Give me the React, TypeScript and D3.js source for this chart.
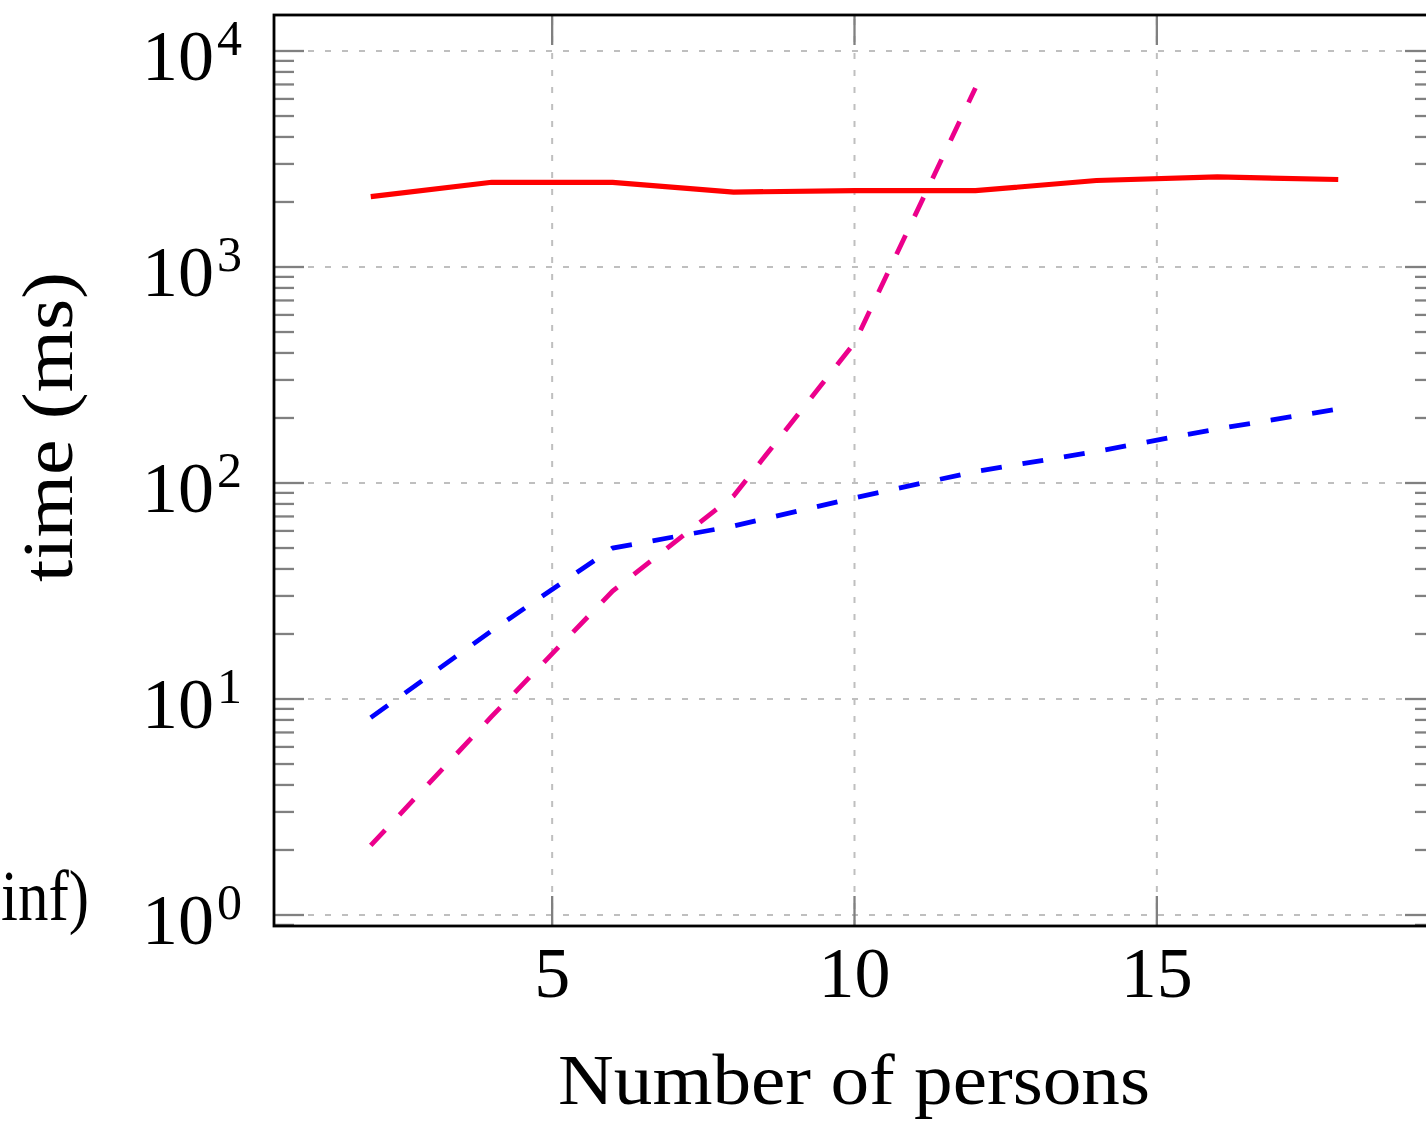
import React from "react";
import * as d3 from "d3";

const persons = [2, 4, 6, 8, 10, 12, 14, 16, 18];
const redTimes = [2116, 2467, 2467, 2223, 2256, 2256, 2515, 2611, 2541];
const blueTimes = [8.2, 20.7, 50, 63.2, 85.4, 113, 140, 178, 220];
const pinkPersons = [2, 4, 6, 8, 10, 12];
const pinkTimes = [2.1, 8.3, 31.6, 87.1, 445, 6740];
const xTicks = [5, 10, 15];
const yMajorExps = [0, 1, 2, 3, 4];

const W = 1426;
const H = 1121;
const FONT = "'Liberation Serif', 'Times New Roman', serif";

export default function App() {
  const left = 274;
  const right = 1435;
  const top = 15;
  const bottom = 926;
  const x = d3.scaleLinear().domain([0.4, 19.6]).range([left, right]);
  const y = d3
    .scaleLog()
    .domain([Math.pow(10, -11 / 216), Math.pow(10, 4 + 36 / 216)])
    .range([bottom, top]);
  const [yMin, yMax] = y.domain();

  const majorY = yMajorExps.map((e) => Math.pow(10, e));
  const minorY: number[] = [];
  for (let e = -1; e <= 4; e++) {
    for (let m = 2; m <= 9; m++) {
      const v = m * Math.pow(10, e);
      if (v >= yMin && v <= yMax) minorY.push(v);
    }
  }

  const line = d3
    .line<[number, number]>()
    .x((d) => x(d[0]))
    .y((d) => y(d[1]));

  const redPath = line(persons.map((p, i) => [p, redTimes[i]]));
  const bluePath = line(persons.map((p, i) => [p, blueTimes[i]]));
  const pinkPath = line(pinkPersons.map((p, i) => [p, pinkTimes[i]]));

  const gridColor = "#bfbfbf";
  const tickColor = "#808080";
  const majorLen = 30;
  const minorLen = 20;

  return (
    <svg
      width={W}
      height={H}
      style={{ position: "absolute", left: 0, top: 0, background: "#fff" }}
      fontFamily={FONT}
    >
      <rect x={0} y={0} width={W} height={H} fill="#fff" />
      <defs>
        <clipPath id="plotclip">
          <rect x={left} y={top} width={right - left} height={bottom - top} />
        </clipPath>
      </defs>
      {/* grid */}
      <g stroke={gridColor} strokeWidth={2} strokeDasharray="6 11">
        {xTicks.map((t) => (
          <line key={"gx" + t} x1={x(t)} x2={x(t)} y1={bottom} y2={top} />
        ))}
        {majorY.map((v) => (
          <line key={"gy" + v} x1={left} x2={right} y1={y(v)} y2={y(v)} />
        ))}
      </g>
      {/* ticks */}
      <g stroke={tickColor} strokeWidth={2.3}>
        {xTicks.map((t) => (
          <g key={"tx" + t}>
            <line x1={x(t)} x2={x(t)} y1={bottom} y2={bottom - majorLen} />
            <line x1={x(t)} x2={x(t)} y1={top} y2={top + majorLen} />
          </g>
        ))}
        {majorY.map((v) => (
          <g key={"ty" + v}>
            <line x1={left} x2={left + majorLen} y1={y(v)} y2={y(v)} />
            <line x1={right} x2={right - majorLen} y1={y(v)} y2={y(v)} />
          </g>
        ))}
        {minorY.map((v) => (
          <g key={"tm" + v}>
            <line x1={left} x2={left + minorLen} y1={y(v)} y2={y(v)} />
            <line x1={right} x2={right - minorLen} y1={y(v)} y2={y(v)} />
          </g>
        ))}
      </g>
      {/* data */}
      <g clipPath="url(#plotclip)" fill="none">
        <path d={redPath || ""} stroke="#ff0000" strokeWidth={5.2} />
        <path d={bluePath || ""} stroke="#0000ff" strokeWidth={4.8} strokeDasharray="21 21" />
        <path d={pinkPath || ""} stroke="#ec008c" strokeWidth={4.8} strokeDasharray="21 21" />
      </g>
      {/* frame */}
      <rect
        x={left}
        y={top}
        width={right - left}
        height={bottom - top}
        fill="none"
        stroke="#000"
        strokeWidth={2.8}
      />
      {/* x tick labels */}
      <g fontSize={72} textAnchor="middle" fill="#000">
        {xTicks.map((t) => (
          <text key={"lx" + t} x={x(t)} y={997}>
            {t}
          </text>
        ))}
      </g>
      {/* y tick labels */}
      <g fill="#000">
        {yMajorExps.map((e) => {
          const py = y(Math.pow(10, e));
          return (
            <g key={"ly" + e}>
              <text x={214} y={py + 29} fontSize={72} textAnchor="end">
                10
              </text>
              <text x={217} y={py + 4} fontSize={50} textAnchor="start">
                {e}
              </text>
            </g>
          );
        })}
      </g>
      {/* axis labels */}
      <text
        x={854}
        y={1104}
        fontSize={72}
        textAnchor="middle"
        textLength={592}
        lengthAdjust="spacingAndGlyphs"
        fill="#000"
      >
        Number of persons
      </text>
      <text
        transform="translate(72,427) rotate(-90)"
        fontSize={72}
        textAnchor="middle"
        textLength={310}
        lengthAdjust="spacingAndGlyphs"
        fill="#000"
      >
        time (ms)
      </text>
      <text
        x={1}
        y={920}
        fontSize={72}
        textAnchor="start"
        textLength={88}
        lengthAdjust="spacingAndGlyphs"
        fill="#000"
      >
        inf)
      </text>
    </svg>
  );
}
